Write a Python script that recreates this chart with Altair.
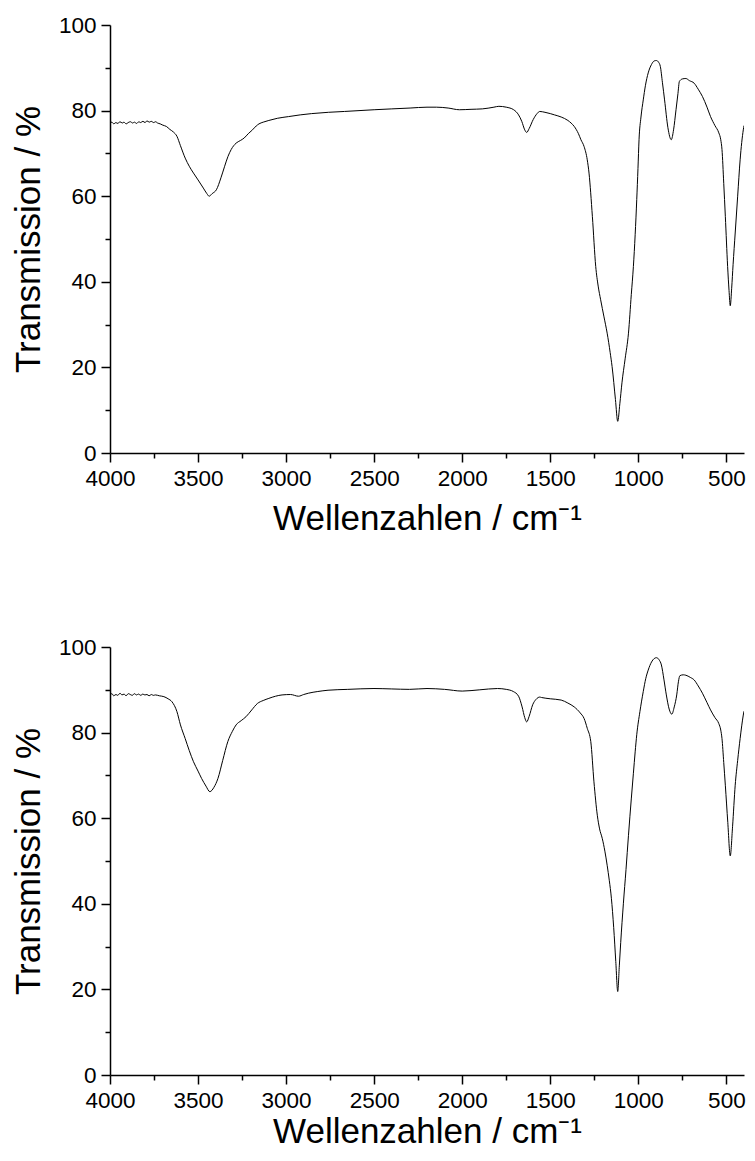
import altair as alt
import pandas as pd

FONT = "Liberation Sans, Arial, Helvetica, sans-serif"

# ---- Top spectrum (wavenumber cm-1, transmission %) ----
wn_top = [4000, 3990, 3978, 3967, 3955, 3944, 3930, 3921, 3908, 3897, 3884, 3872, 3861, 3849,
          3836, 3826, 3813, 3801, 3790, 3777, 3766, 3752, 3741, 3730, 3715, 3700, 3680, 3660,
          3640, 3620, 3600, 3573, 3550,
          3526, 3500, 3470, 3450, 3437, 3420, 3396, 3370, 3349, 3330, 3312, 3284, 3260, 3238,
          3215, 3191, 3170, 3154, 3130, 3098, 3050, 2986, 2920, 2855, 2760, 2669, 2500, 2400,
          2296, 2200, 2147, 2080, 2016, 1950, 1886, 1820, 1792, 1750, 1708, 1680, 1662, 1645,
          1634, 1620, 1597, 1575, 1560, 1530, 1500, 1476, 1438, 1400, 1382, 1364, 1340, 1326,
          1308, 1290, 1280, 1261, 1242, 1228, 1214, 1195, 1177, 1160, 1149, 1130, 1117, 1105,
          1093, 1075, 1056, 1040, 1028, 1018, 1009, 1002, 996, 985, 972, 960, 944, 925, 910,
          897, 885, 875, 863, 851, 832, 813, 800, 786, 775, 767, 750, 730, 710, 683, 660, 636,
          610, 590, 565, 543, 532, 525, 515, 506, 493, 485, 478, 470, 462, 450, 436, 422, 404, 400]
t_top = [77.0, 77.3, 76.9, 77.2, 77.0, 77.4, 77.1, 77.3, 76.9, 77.2, 77.4, 77.1, 77.3, 77.0,
         77.4, 77.2, 77.5, 77.2, 77.6, 77.3, 77.5, 77.2, 77.4, 77.1, 76.9, 76.6, 76.3, 75.6,
         75.0, 74.0, 71.8, 68.9, 67.0,
         65.4, 63.8, 61.9, 60.6, 60.0, 60.6, 61.5, 64.3, 67.0, 69.3, 70.9, 72.4, 73.0, 73.6,
         74.6, 75.5, 76.4, 76.9, 77.3, 77.7, 78.2, 78.6, 79.0, 79.3, 79.6, 79.8, 80.2, 80.4,
         80.6, 80.8, 80.8, 80.6, 80.2, 80.3, 80.4, 80.8, 81.0, 80.8, 80.2, 79.0, 77.5, 75.5,
         74.9, 75.8, 77.9, 79.3, 79.8, 79.6, 79.3, 79.0, 78.5, 77.7, 77.1, 76.3, 74.6, 73.2,
         71.6, 68.5, 65.4, 55.3, 43.6, 39.0, 35.8, 31.8, 28.0, 23.5, 20.2, 12.5, 7.4, 11.5,
         16.4, 22.0, 28.0, 37.0, 43.6, 51.0, 59.2, 66.5, 73.2, 78.5, 82.5, 85.8, 88.8, 90.8, 91.6,
         91.7, 91.3, 90.3, 86.5, 82.5, 76.0, 73.2, 75.5, 80.2, 84.0, 86.8, 87.4, 87.5, 87.0, 86.4, 85.0, 83.3,
         80.8, 78.6, 76.5, 74.8, 73.2, 70.9, 63.0, 55.3, 43.6, 38.0, 34.4, 38.5, 44.0, 51.4, 60.0, 68.5, 75.5, 76.5]

# ---- Bottom spectrum ----
wn_bot = [4000, 3989, 3979, 3966, 3956, 3943, 3932, 3920, 3909, 3896, 3885, 3873, 3862, 3850,
          3838, 3825, 3814, 3802, 3790, 3778, 3765, 3754, 3742, 3720, 3694, 3670, 3648, 3620,
          3600, 3573, 3550, 3526, 3500,
          3480, 3455, 3433, 3410, 3387, 3360, 3331, 3305, 3284, 3255, 3228, 3195, 3163, 3130,
          3098, 3060, 3023, 2975, 2930, 2900, 2874, 2820, 2762, 2650, 2501, 2400, 2300, 2200,
          2100, 2000, 1900, 1800, 1750, 1710, 1680, 1660, 1645, 1634, 1620, 1600, 1580, 1560,
          1550, 1500, 1438, 1400, 1364, 1330, 1308, 1290, 1270, 1252, 1233, 1220, 1205, 1190,
          1177, 1165, 1153, 1140, 1128, 1117, 1108, 1100, 1085, 1070, 1056, 1040, 1028, 1018,
          1009, 991, 972, 958, 944, 925, 910, 897, 882, 869, 855, 841, 825, 810, 796, 782, 772,
          764, 745, 730, 705, 683, 660, 636, 610, 590, 565, 543, 532, 525, 515, 506, 492, 478,
          465, 450, 436, 422, 404, 400]
t_bot = [88.8, 89.1, 88.6, 88.9, 88.7, 89.2, 88.8, 89.0, 88.6, 89.1, 88.9, 88.7, 89.1, 88.8,
         89.0, 88.7, 89.0, 88.8, 88.9, 88.6, 88.9, 88.7, 88.8, 88.6, 88.4, 87.9, 87.2, 84.9,
         81.8, 78.6, 75.8, 73.2, 71.0,
         69.3, 67.5, 66.2, 67.2, 69.3, 73.5, 77.9, 80.3, 81.8, 82.8, 83.7, 85.3, 86.8, 87.5,
         88.0, 88.5, 88.8, 88.9, 88.5, 88.9, 89.2, 89.6, 89.9, 90.1, 90.3, 90.2, 90.1, 90.3,
         90.1, 89.7, 90.0, 90.3, 90.1, 89.6, 88.5, 86.0, 83.5, 82.5, 83.8, 86.5, 87.8, 88.3,
         88.2, 87.9, 87.6, 86.9, 86.0, 84.6, 83.3, 81.0, 77.9, 68.5, 60.7, 57.5, 55.3, 52.3,
         49.0, 45.5, 41.3, 34.5, 26.5, 19.5, 25.5, 31.0, 40.0, 48.0, 56.0, 64.5, 70.5, 75.5,
         79.5, 84.9, 89.6, 92.6, 94.6, 96.5, 97.3, 97.5, 97.0, 95.8, 92.5, 88.8, 85.5, 84.3, 86.0, 88.8, 92.0,
         93.3, 93.5, 93.4, 92.9, 92.3, 90.9, 89.2, 87.0, 85.3, 83.5, 82.1, 80.6, 78.6, 73.0, 67.7, 59.0, 51.2,
         58.0, 67.7, 73.5, 78.6, 84.1, 85.0]

x_ticks = list(range(500, 4001, 250))
y_ticks = list(range(0, 101, 10))

PLOT_W = 634
PLOT_H = 428
X_MIN = 400


def panel(wn, t, title_pad):
    df = pd.DataFrame({"wn": wn, "t": t})
    x_axis = alt.Axis(
        values=x_ticks,
        labelExpr="datum.value % 500 === 0 ? datum.label : ''",
        format="d",
        title="Wellenzahlen / cm⁻¹",
        tickSize={"condition": {"test": "datum.value % 500 === 0", "value": 9}, "value": 5},
        labelFlush=False,
        labelOverlap=False,
        labelPadding=5,
        titlePadding=title_pad,
        grid=False,
    )
    y_axis = alt.Axis(
        values=y_ticks,
        labelExpr="datum.value % 20 === 0 ? datum.label : ''",
        format="d",
        title="Transmission / %",
        tickSize={"condition": {"test": "datum.value % 20 === 0", "value": 9}, "value": 5},
        labelOverlap=False,
        labelPadding=5,
        titlePadding=12,
        grid=False,
    )
    return alt.Chart(df).mark_line(
        color="black", strokeWidth=1, interpolate="monotone", clip=True
    ).encode(
        x=alt.X("wn:Q", scale=alt.Scale(domain=[X_MIN, 4000], reverse=True, nice=False, zero=False),
                axis=x_axis),
        y=alt.Y("t:Q", scale=alt.Scale(domain=[0, 100], nice=False), axis=y_axis),
        order=alt.Order("wn:Q", sort="descending"),
    ).properties(width=PLOT_W, height=PLOT_H)


chart = alt.vconcat(panel(wn_top, t_top, 12), panel(wn_bot, t_bot, 3), spacing=99).properties(
    padding={"left": 3, "top": 6, "right": 0, "bottom": 0}
).configure_view(stroke=None).configure_axis(
    domainColor="black",
    domainWidth=1.5,
    tickColor="black",
    tickWidth=1.5,
    labelColor="black",
    labelFont=FONT,
    labelFontSize=22.5,
    titleColor="black",
    titleFont=FONT,
    titleFontSize=35,
    titleFontWeight="normal",
)

chart.save("out.html", embed_options={"renderer": "svg", "actions": False})
